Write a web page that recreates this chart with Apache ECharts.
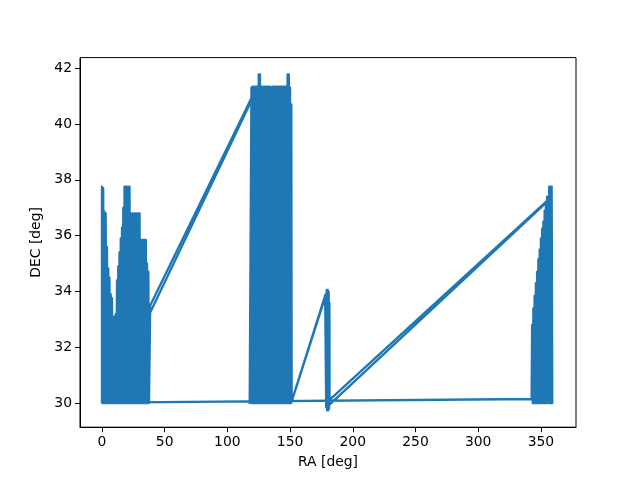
<!DOCTYPE html>
<html>
<head>
<meta charset="utf-8">
<script src="https://cdn.jsdelivr.net/npm/echarts@6/dist/echarts.min.js"></script>
<style>
  html, body { margin: 0; padding: 0; background: #fff; }
  #main { width: 640px; height: 480px; }
</style>
</head>
<body>
<div id="main"></div>
<script>
// tick labels
var raTicks = [0, 50, 100, 150, 200, 250, 300, 350];
var decTicks = [30, 32, 34, 36, 38, 40, 42];

// pointing track, [RA, DEC] in observing order
// field near RA 0-38
var scanA = [
  [0.0, 30.0], [0.0, 37.76], [0.5, 30.0], [1, 37.7], [1.5, 30.0], [2, 36.86], [2.5, 30.0], [3, 36.8],
  [3.5, 30.0], [4, 35.6], [4.5, 30.0], [5, 34.83], [5.5, 30.0], [6, 34.5], [6.5, 30.0], [7, 33.9],
  [7.5, 30.0], [8, 33.76], [8.5, 30.0], [9, 33.1], [9.5, 30.0], [10, 33.1], [10.5, 30.0], [11, 33.2],
  [11.5, 30.0], [12, 34.4], [12.5, 30.0], [13, 34.9], [13.5, 30.0], [14, 35.4], [14.5, 30.0], [15, 35.9],
  [15.5, 30.0], [16, 36.3], [16.5, 30.0], [17, 37.0], [17.5, 30.0], [18, 37.76], [18.5, 30.0], [19, 37.76],
  [19.5, 30.0], [20, 37.76], [20.5, 30.0], [21, 37.76], [21.5, 30.0], [22, 37.76], [22.5, 30.0], [23, 36.8],
  [23.5, 30.0], [24, 36.8], [24.5, 30.0], [25, 36.8], [25.5, 30.0], [26, 36.8], [26.5, 30.0], [27, 36.8],
  [27.5, 30.0], [28, 36.8], [28.5, 30.0], [29, 36.8], [29.5, 30.0], [30, 36.8], [30.5, 30.0], [31, 35.85],
  [31.5, 30.0], [32, 35.85], [32.5, 30.0], [33, 35.85], [33.5, 30.0], [34, 35.85], [34.5, 30.0], [35, 35.85],
  [35.5, 30.0], [36, 35.0], [36.5, 30.0], [37, 34.7], [37.5, 30.0], [38.3, 30.0], [38.5, 33.5]
];
// field near RA 118-151
var scanB = [
  [120.0, 41.0], [117.8, 30.0], [119.2, 41.3], [119.5, 30.0], [120, 41.34], [120.5, 30.0], [121, 41.34],
  [121.5, 30.0], [122, 41.34], [122.5, 30.0], [123, 41.34], [123.5, 30.0], [124, 41.34], [124.5, 30.0],
  [125, 41.78], [125.5, 30.0], [126, 41.78], [126.5, 30.0], [127, 41.34], [127.5, 30.0], [128, 41.34],
  [128.5, 30.0], [129, 41.34], [129.5, 30.0], [130, 41.34], [130.5, 30.0], [131, 41.34], [131.5, 30.0],
  [132, 41.34], [132.5, 30.0], [133, 41.34], [133.5, 30.0], [134, 41.34], [134.5, 30.0], [135, 41.3],
  [135.5, 30.0], [136, 41.34], [136.5, 30.0], [137, 41.34], [137.5, 30.0], [138, 41.34], [138.5, 30.0],
  [139, 41.34], [139.5, 30.0], [140, 41.34], [140.5, 30.0], [141, 41.34], [141.5, 30.0], [142, 41.34],
  [142.5, 30.0], [143, 41.34], [143.5, 30.0], [144, 41.34], [144.5, 30.0], [145, 41.34], [145.5, 30.0],
  [146, 41.34], [146.5, 30.0], [147, 41.34], [147.5, 30.0], [148, 41.78], [148.5, 30.0], [149, 41.78],
  [149.5, 30.0], [150, 41.3], [150.5, 30.0], [151, 40.7], [151.3, 30.06]
];
// field near RA 180
var scanC = [
  [178.0, 33.8], [178.8, 29.85], [179.2, 34.06], [179.6, 29.74], [180.0, 34.06], [180.4, 29.74],
  [180.8, 34.0], [181.1, 29.8], [181.4, 33.6], [181.5, 30.12]
];
// field near RA 343-360
var scanD = [
  [355.8, 37.28], [356.2, 30.0], [356.6, 37.76], [357.1, 30.0], [357.6, 37.76], [358.1, 30.0], [358.6, 37.76],
  [359.1, 30.0], [355, 37.4], [354.5, 30.0], [354, 37.2], [353.5, 30.0], [353, 36.9], [352.5, 30.0],
  [352, 36.5], [351.5, 30.0], [351, 36.25], [350.5, 30.0], [350, 35.9], [349.5, 30.0], [349, 35.5],
  [348.5, 30.0], [348, 35.15], [347.5, 30.0], [347, 34.7], [346.5, 30.0], [346, 34.3], [345.5, 30.0],
  [345, 33.85], [344.5, 30.0], [344, 33.4], [343.5, 30.0], [343, 32.8], [342.6, 30.15]
];
// slew back to the start, then the second pass through the fields
var secondPass = [
  [0.5, 30.02], [38.5, 33.25], [120.4, 40.95], [151.0, 30.02], [178.3, 33.9], [181.5, 29.95],
  [357.0, 37.3], [357.2, 30.1]
];

var track = scanA.concat(scanB, scanC, scanD, secondPass);

var myChart = echarts.init(document.getElementById('main'), null, { renderer: 'canvas' });
var font = 'DejaVu Sans';
var option = {
  animation: false,
  backgroundColor: '#ffffff',
  grid: {
    left: 80,
    right: 64,
    top: 57.6,
    bottom: 52.8,
    show: true,
    borderColor: '#000',
    borderWidth: 1,
    backgroundColor: 'transparent'
  },
  xAxis: {
    type: 'value',
    min: -17.5,
    max: 378,
    name: 'RA [deg]',
    nameLocation: 'middle',
    nameGap: 28,
    nameTextStyle: { color: '#000', fontFamily: font, fontSize: 13.9 },
    axisLine: { show: true, onZero: false, lineStyle: { color: '#000', width: 1 } },
    axisTick: { show: true, length: 5, customValues: raTicks, lineStyle: { color: '#000', width: 1 } },
    axisLabel: { customValues: raTicks, color: '#000', fontFamily: font, fontSize: 13.9, margin: 8 },
    splitLine: { show: false }
  },
  yAxis: {
    type: 'value',
    min: 29.14,
    max: 42.38,
    name: 'DEC [deg]',
    nameLocation: 'middle',
    nameRotate: 90,
    nameGap: 31,
    nameTextStyle: { color: '#000', fontFamily: font, fontSize: 13.9 },
    axisLine: { show: true, onZero: false, lineStyle: { color: '#000', width: 1 } },
    axisTick: { show: true, length: 5, customValues: decTicks, lineStyle: { color: '#000', width: 1 } },
    axisLabel: { customValues: decTicks, color: '#000', fontFamily: font, fontSize: 13.9, margin: 8 },
    splitLine: { show: false }
  },
  series: [{
    name: 'track',
    type: 'line',
    data: track,
    showSymbol: false,
    symbol: 'none',
    lineStyle: { color: '#1f77b4', width: 2.3, join: 'round' }
  }]
};
myChart.setOption(option);
</script>
</body>
</html>
